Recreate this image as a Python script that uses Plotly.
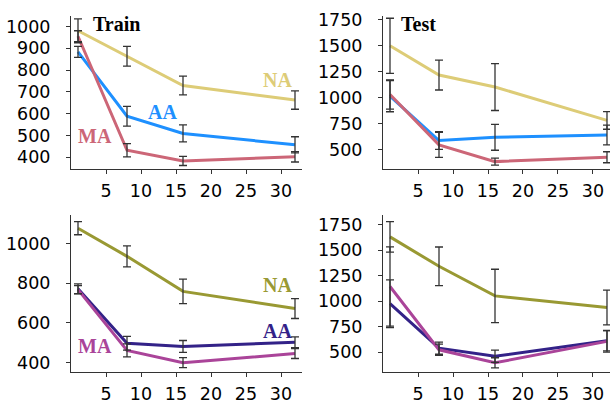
import plotly.graph_objects as go

x = [1, 8, 16, 32]

# Top row (Train / Test)
train_na = [980, 863, 729, 662]
train_na_err = [55, 45, 43, 42]
train_aa = [883, 588, 509, 457]
train_aa_err = [25, 45, 39, 37]
train_ma = [955, 432, 383, 402]
train_ma_err = [25, 30, 21, 24]

test_na = [1498, 1217, 1102, 782]
test_na_err = [265, 143, 225, 85]
test_aa = [1015, 588, 619, 641]
test_aa_err = [150, 85, 124, 95]
test_ma = [1030, 547, 386, 428]
test_ma_err = [140, 120, 34, 53]

# Bottom row
btrain_na = [1078, 936, 759, 672]
btrain_na_err = [33, 53, 62, 50]
btrain_aa = [772, 497, 481, 502]
btrain_aa_err = [25, 35, 30, 27]
btrain_ma = [768, 461, 399, 445]
btrain_ma_err = [20, 33, 25, 25]

btest_na = [1632, 1343, 1052, 938]
btest_na_err = [150, 190, 262, 171]
btest_aa = [975, 538, 458, 612]
btest_aa_err = [235, 60, 60, 100]
btest_ma = [1144, 522, 394, 605]
btest_ma_err = [390, 55, 50, 105]

xticks = [5, 10, 15, 20, 25, 30]

C_NA1, C_AA1, C_MA1 = "#DDCC77", "#1E90FF", "#CC6677"
C_NA2, C_AA2, C_MA2 = "#999933", "#332288", "#AA4499"
ERR = "#333333"

fig = go.Figure()

panels = [
    ("x", "y", [(train_na, train_na_err, C_NA1), (train_aa, train_aa_err, C_AA1), (train_ma, train_ma_err, C_MA1)]),
    ("x2", "y2", [(test_na, test_na_err, C_NA1), (test_aa, test_aa_err, C_AA1), (test_ma, test_ma_err, C_MA1)]),
    ("x3", "y3", [(btrain_na, btrain_na_err, C_NA2), (btrain_aa, btrain_aa_err, C_AA2), (btrain_ma, btrain_ma_err, C_MA2)]),
    ("x4", "y4", [(btest_na, btest_na_err, C_NA2), (btest_aa, btest_aa_err, C_AA2), (btest_ma, btest_ma_err, C_MA2)]),
]

for xa, ya, series in panels:
    for vals, err, col in series:
        fig.add_trace(go.Scatter(x=x, y=vals, mode="lines", line=dict(color=col, width=3),
                                 xaxis=xa, yaxis=ya, showlegend=False, hoverinfo="skip"))
    for vals, err, col in series:
        fig.add_trace(go.Scatter(x=x, y=vals, mode="markers", marker=dict(size=1, opacity=0),
                                 error_y=dict(type="data", array=err, visible=True, color=ERR,
                                              thickness=1.3, width=4),
                                 xaxis=xa, yaxis=ya, showlegend=False, hoverinfo="skip"))

tickfont = dict(family="DejaVu Sans", size=17.5, color="black")
axcommon = dict(showline=True, linecolor="#333", linewidth=1, ticks="outside", ticklen=4,
                tickcolor="#333", showgrid=False, zeroline=False, tickfont=tickfont)

W, H = 610, 404
xl = [71 / W, 302 / W]
xr = [383 / W, 1.0]
yt = [(H - 168) / H, (H - 10) / H]
yb = [(H - 376) / H, (H - 215) / H]

fig.update_layout(
    width=W, height=H, margin=dict(l=0, r=0, t=0, b=0),
    paper_bgcolor="white", plot_bgcolor="white",
    xaxis=dict(domain=xl, range=[0, 33], anchor="y", tickvals=xticks, ticklabelstandoff=2, **axcommon),
    yaxis=dict(domain=yt, range=[344, 1049], anchor="x", tickvals=[400, 500, 600, 700, 800, 900, 1000],
               ticklabelstandoff=12, **axcommon),
    xaxis2=dict(domain=xr, range=[0, 32.43], anchor="y2", tickvals=xticks, ticklabelstandoff=2, **axcommon),
    yaxis2=dict(domain=yt, range=[311, 1787], anchor="x2", tickvals=[500, 750, 1000, 1250, 1500, 1750],
                ticklabelstandoff=12, **axcommon),
    xaxis3=dict(domain=xl, range=[0, 33], anchor="y3", tickvals=xticks, ticklabelstandoff=2, **axcommon),
    yaxis3=dict(domain=yb, range=[353, 1144], anchor="x3", tickvals=[400, 600, 800, 1000],
                ticklabelstandoff=12, **axcommon),
    xaxis4=dict(domain=xr, range=[0, 32.43], anchor="y4", tickvals=xticks, ticklabelstandoff=2, **axcommon),
    yaxis4=dict(domain=yb, range=[306, 1846], anchor="x4", tickvals=[500, 750, 1000, 1250, 1500, 1750],
                ticklabelstandoff=12, **axcommon),
)

def lab(text, xr_, yr_, xv, yv, col):
    fig.add_annotation(text=text, x=xv, y=yv, xref=xr_, yref=yr_, showarrow=False,
                       font=dict(family="Liberation Serif", size=20, color=col, weight="bold"),
                       xanchor="center", yanchor="middle")

lab("Train", "x", "y", 6.57, 1013, "black")
lab("NA", "x", "y", 29.5, 755, C_NA1)
lab("AA", "x", "y", 13.07, 606, C_AA1)
lab("MA", "x", "y", 3.43, 499, C_MA1)
lab("Test", "x2", "y2", 5.14, 1710, "black")
lab("NA", "x3", "y3", 29.5, 789, C_NA2)
lab("AA", "x3", "y3", 29.5, 559, C_AA2)
lab("MA", "x3", "y3", 3.43, 481, C_MA2)

fig.write_html("out.html")
